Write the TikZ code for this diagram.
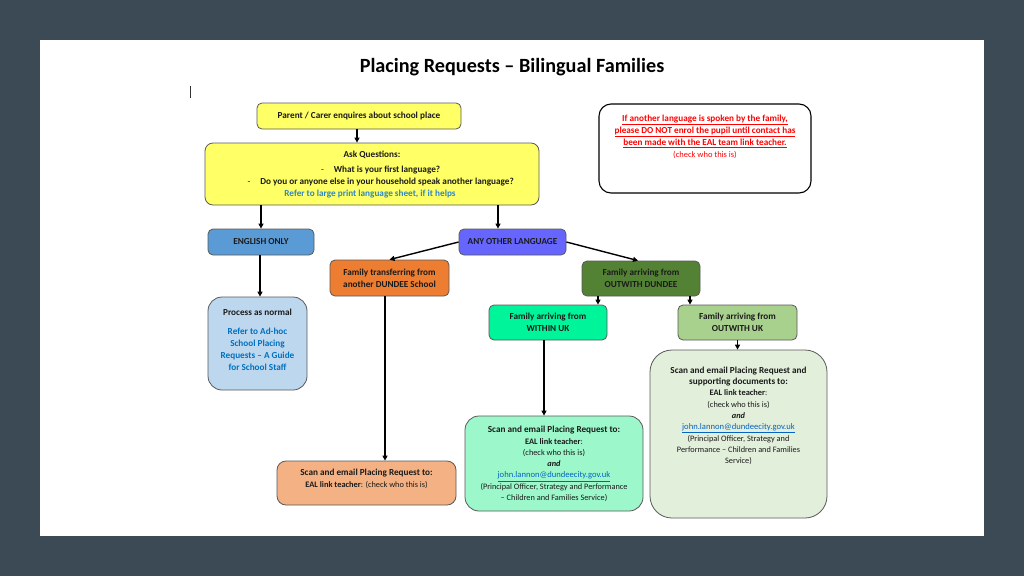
\documentclass[tikz,border=0pt]{standalone}
\usepackage{fontspec}
\setmainfont{Carlito}
\usetikzlibrary{arrows.meta}
\definecolor{bgc}{HTML}{3C4A55}
\definecolor{yel}{HTML}{FFFF66}
\definecolor{engc}{HTML}{5B9BD5}
\definecolor{anyc}{HTML}{6666FF}
\definecolor{oran}{HTML}{ED7D31}
\definecolor{dgreen}{HTML}{548235}
\definecolor{bgreen}{HTML}{00F59B}
\definecolor{lgreen}{HTML}{A9D18E}
\definecolor{procc}{HTML}{BDD7EE}
\definecolor{oscan}{HTML}{F4B183}
\definecolor{wscan}{HTML}{9CF8CA}
\definecolor{uscan}{HTML}{E2EFDA}
\definecolor{bluet}{HTML}{2E86C1}
\definecolor{bluep}{HTML}{0070C0}
\definecolor{linkc}{HTML}{0563C1}
\definecolor{redt}{HTML}{FF0000}
\definecolor{txt}{HTML}{1A1A1A}
\tikzset{
  box/.style={draw=black!65, line width=0.8pt, rounded corners=5pt, inner sep=0pt},
  bigbox/.style={draw=black!65, line width=0.8pt, rounded corners=14pt, inner sep=0pt},
  lbl/.style={text=txt, align=center, inner sep=0pt, font=\fontsize{9.2}{12}\selectfont\bfseries},
  small/.style={text=txt, align=center, inner sep=0pt, font=\fontsize{8.3}{11.3}\selectfont},
  arr/.style={line width=1.4pt, -{Triangle[length=5pt,width=5pt]}}
}
\newcommand{\hd}[1]{{\fontsize{9.2}{11.3}\selectfont\bfseries #1}}
\newcommand{\eal}{{\fontsize{8.4}{11.3}\selectfont\bfseries EAL link teacher}}
\newcommand{\qdash}{\makebox[30pt][r]{\mdseries -\hspace{10pt}}}
\newcommand{\maillink}{{\fontsize{8.6}{11.3}\selectfont\textcolor{linkc}{\underline{john.lannon@dundeecity.gov.uk}}}}
\begin{document}
\begin{tikzpicture}[x=1pt,y=-1pt]
\useasboundingbox (0,0) rectangle (1024,576);
\fill[bgc] (0,0) rectangle (1024,576);
\fill[white] (40,40) rectangle (984,536);

\node[font=\fontsize{20.2}{24}\selectfont\bfseries, text=black] (title) at (512,67) {Placing Requests -- Bilingual Families};
\draw[black!80, line width=0.6pt] (190,86) -- (190,98);

% boxes
\node[box, fill=yel, minimum width=204pt, minimum height=26pt] (b1) at (359,116) {};
\node[lbl] (b1t) at (b1) {Parent / Carer enquires about school place};

\node[box, rounded corners=8pt, fill=yel, minimum width=334pt, minimum height=62pt] (b2) at (372,174) {};
\node[lbl, anchor=north] (b2t) at ([yshift=-8pt]b2.north) {Ask Questions:\\[3pt]
\qdash What is your first language?\\
\qdash Do you or anyone else in your household speak another language?\\
\hspace*{-4pt}\textcolor{bluet}{Refer to large print language sheet, if it helps}};

\node[box, rounded corners=12pt, draw=black, line width=1.1pt, fill=white, minimum width=212pt, minimum height=89pt] (warn) at (705,148.5) {};
\node[lbl, anchor=north, text=redt] (warnt) at ([yshift=-11.5pt]warn.north) {\underline{If another language is spoken by the family,}\\
\underline{please DO NOT enrol the pupil until contact has}\\
\underline{been made with the EAL team link teacher.}\\
{\mdseries\fontsize{8.5}{10}\selectfont (check who this is)}};

\node[box, fill=engc, minimum width=106pt, minimum height=26pt] (eng) at (261,242) {};
\node[lbl] (engt) at (eng) {ENGLISH ONLY};

\node[box, fill=anyc, minimum width=107pt, minimum height=26pt] (any) at (512.5,242) {};
\node[lbl] (anyt) at (any) {ANY OTHER LANGUAGE};

\node[bigbox, fill=procc, minimum width=99pt, minimum height=93pt] (proc) at (257.5,343.5) {};
\node[lbl, anchor=north] (proct) at ([yshift=-12.5pt]proc.north) {Process as normal\\[7pt]
\textcolor{bluep}{Refer to Ad-hoc}\\ \textcolor{bluep}{School Placing}\\ \textcolor{bluep}{Requests -- A Guide}\\ \textcolor{bluep}{for School Staff}};

\node[box, fill=oran, minimum width=119pt, minimum height=36pt] (fam) at (389.5,278) {};
\node[lbl] (famt) at (fam) {Family transferring from\\another DUNDEE School};

\node[box, fill=dgreen, minimum width=118pt, minimum height=35pt] (outd) at (641,278.5) {};
\node[lbl] (outdt) at (outd) {Family arriving from\\OUTWITH DUNDEE};

\node[box, fill=bgreen, minimum width=118pt, minimum height=35pt] (wuk) at (548,322.5) {};
\node[lbl] (wukt) at (wuk) {Family arriving from\\WITHIN UK};

\node[box, fill=lgreen, minimum width=119pt, minimum height=35pt] (ouk) at (737.5,322.5) {};
\node[lbl] (oukt) at (ouk) {Family arriving from\\OUTWITH UK};

\node[box, rounded corners=9pt, fill=oscan, minimum width=179pt, minimum height=44pt] (os) at (366.5,483) {};
\node[small, anchor=north, font=\fontsize{8.3}{12}\selectfont] (ost) at ([yshift=-8pt]os.north) {\hd{Scan and email Placing Request to:}\\
\eal: (check who this is)};

\node[bigbox, fill=wscan, minimum width=178pt, minimum height=95pt] (ws) at (554,463.5) {};
\node[small, anchor=north] (wst) at ([yshift=-10.5pt]ws.north) {\hd{Scan and email Placing Request to:}\\
\eal:\\
(check who this is)\\
\textbf{\itshape and}\\
\maillink\\
(Principal Officer, Strategy and Performance\\
-- Children and Families Service)};

\node[bigbox, rounded corners=22pt, fill=uscan, minimum width=177pt, minimum height=168pt] (us) at (738.5,434) {};
\node[small, anchor=north] (ust) at ([yshift=-17pt]us.north) {\hd{Scan and email Placing Request and}\\
\hd{supporting documents to:}\\
\eal:\\
(check who this is)\\
\textbf{\itshape and}\\
\maillink\\
(Principal Officer, Strategy and\\
Performance -- Children and Families\\
Service)};

% arrows
\draw[arr] ([xshift=-2pt]b1.south) -- ([xshift=-2pt]b1.south |- b2.north);
\draw[arr] (eng.north |- b2.south) -- (eng.north);
\draw[arr] ([xshift=-14.5pt]any.north |- b2.south) -- ([xshift=-14.5pt]any.north);
\draw[arr] ([xshift=-1pt]eng.south) -- ([xshift=-1pt]eng.south |- proc.north);
\draw[arr] (any.west) -- (fam.north);
\draw[arr] (any.east) -- ([xshift=-3pt]outd.north);
\draw[arr] ([xshift=-43pt]outd.south) -- ([xshift=-43pt]outd.south |- wuk.north);
\draw[arr] ([xshift=49pt]outd.south) -- ([xshift=49pt]outd.south |- ouk.north);
\draw[arr] (ouk.south) -- (ouk.south |- us.north);
\draw[arr] ([xshift=-4pt]wuk.south) -- ([xshift=-4pt]wuk.south |- ws.north);
\draw[arr] ([xshift=-4.5pt]fam.south) -- ([xshift=-4.5pt]fam.south |- os.north);
\end{tikzpicture}
\end{document}
